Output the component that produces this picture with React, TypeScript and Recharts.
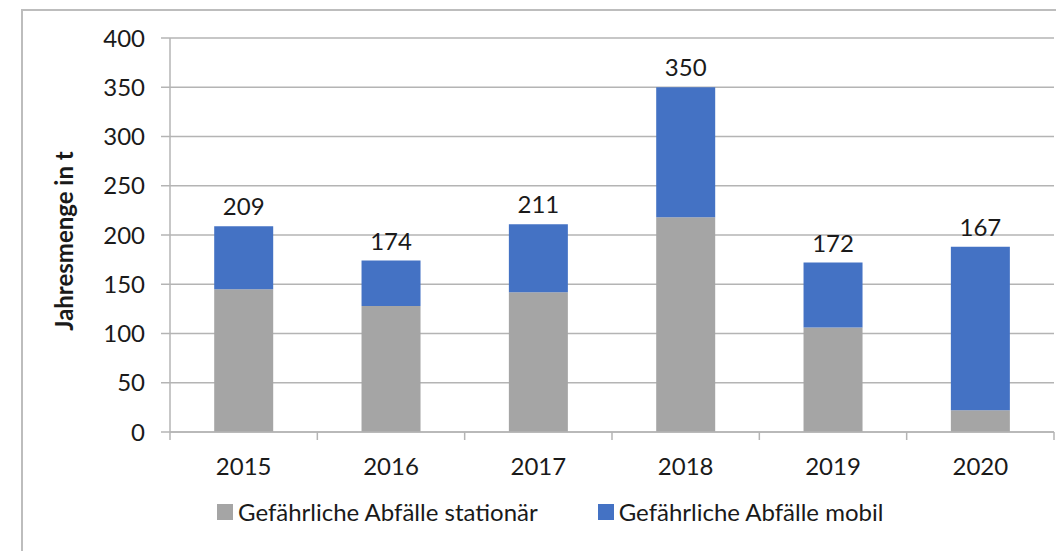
import { BarChart, Bar, XAxis, YAxis, CartesianGrid, Legend, LabelList } from 'recharts';

const years = ['2015', '2016', '2017', '2018', '2019', '2020'];
const stationaer = [145, 128, 142, 218, 106, 22];
const mobil = [64, 46, 69, 132, 66, 166];
// totals as printed in the chart (2020 label differs from the bar height)
const totalLabels = ['209', '174', '211', '350', '172', '167'];
const yTicks = [0, 50, 100, 150, 200, 250, 300, 350, 400];

const W = 1056;
const H = 551;
const PLOT_LEFT = 170;
const PLOT_RIGHT = 1054;
const LEGEND_H = 28;
const FONT = 'Lato, "Open Sans", sans-serif';
const GRID = '#b4b4b4';
const GRAY = '#a5a5a5';
const BLUE = '#4472c4';

const data = years.map((year, i) => ({
  year,
  stationaer: stationaer[i],
  mobil: mobil[i],
  label: totalLabels[i],
}));

const band = (PLOT_RIGHT - PLOT_LEFT) / years.length;

function XTick({ x, y, payload, index }: any) {
  const last = index === years.length - 1;
  return (
    <g>
      <line x1={x - band / 2} x2={x - band / 2} y1={y} y2={y + 8} stroke={GRID} strokeWidth={1.5} />
      {last && <line x1={x + band / 2} x2={x + band / 2} y1={y} y2={y + 8} stroke={GRID} strokeWidth={1.5} />}
      <text x={x} y={y + 43} textAnchor="middle" fontSize={24} fontFamily={FONT} fill="#1a1a1a">
        {payload.value}
      </text>
    </g>
  );
}

function YTitle() {
  return (
    <text
      x={63}
      y={241}
      transform="rotate(-90 63 241)"
      textAnchor="middle"
      dominantBaseline="central"
      fontSize={24}
      fontWeight="bold"
      fontFamily={FONT}
      fill="#1a1a1a"
    >
      Jahresmenge in t
    </text>
  );
}

function LegendBox() {
  const items = [
    { name: 'Gefährliche Abfälle stationär', color: GRAY },
    { name: 'Gefährliche Abfälle mobil', color: BLUE },
  ];
  return (
    <div style={{ display: 'flex', alignItems: 'center', gap: 60, fontFamily: FONT, fontSize: 24, color: '#1a1a1a', height: LEGEND_H }}>
      {items.map(it => (
        <div key={it.name} style={{ display: 'flex', alignItems: 'center' }}>
          <span style={{ width: 16, height: 16, background: it.color, display: 'inline-block', marginRight: 5 }} />
          <span style={{ lineHeight: `${LEGEND_H}px` }}>{it.name}</span>
        </div>
      ))}
    </div>
  );
}

export default function App() {
  return (
    <div style={{ position: 'absolute', left: 0, top: 0, width: W, height: H, background: '#fff', overflow: 'hidden' }}>
      <div
        style={{
          position: 'absolute',
          left: 21,
          top: 9,
          width: W,
          height: H,
          borderLeft: '2px solid #bdbdbd',
          borderTop: '2px solid #bdbdbd',
        }}
      />
      <BarChart
        width={W}
        height={H}
        data={data}
        margin={{ top: 38, right: W - PLOT_RIGHT, bottom: 0, left: 0 }}
        barCategoryGap="30%"
        style={{ position: 'absolute', left: 0, top: 0 }}
      >
        <CartesianGrid vertical={false} stroke={GRID} strokeWidth={1.5} />
        <XAxis
          dataKey="year"
          height={119 - LEGEND_H}
          axisLine={{ stroke: GRID, strokeWidth: 1.5 }}
          tickLine={false}
          tickSize={0}
          tickMargin={0}
          tick={<XTick />}
          interval={0}
        />
        <YAxis
          width={PLOT_LEFT}
          domain={[0, 400]}
          ticks={yTicks}
          interval={0}
          axisLine={{ stroke: GRID, strokeWidth: 1.5 }}
          tickLine={{ stroke: GRID, strokeWidth: 1.5 }}
          tickSize={9}
          tickMargin={16}
          tick={{ fontSize: 24, fontFamily: FONT, fill: '#1a1a1a' }}
          label={<YTitle />}
        />
        <Legend
          content={<LegendBox />}
          height={LEGEND_H}
          wrapperStyle={{ position: 'absolute', left: 217, top: 498, width: 'auto', bottom: 'auto' }}
        />
        <Bar dataKey="stationaer" stackId="a" fill={GRAY} isAnimationActive={false} />
        <Bar dataKey="mobil" stackId="a" fill={BLUE} isAnimationActive={false}>
          <LabelList
            dataKey="label"
            position="top"
            offset={11}
            fontSize={24}
            fontFamily={FONT}
            fill="#1a1a1a"
          />
        </Bar>
      </BarChart>
    </div>
  );
}
